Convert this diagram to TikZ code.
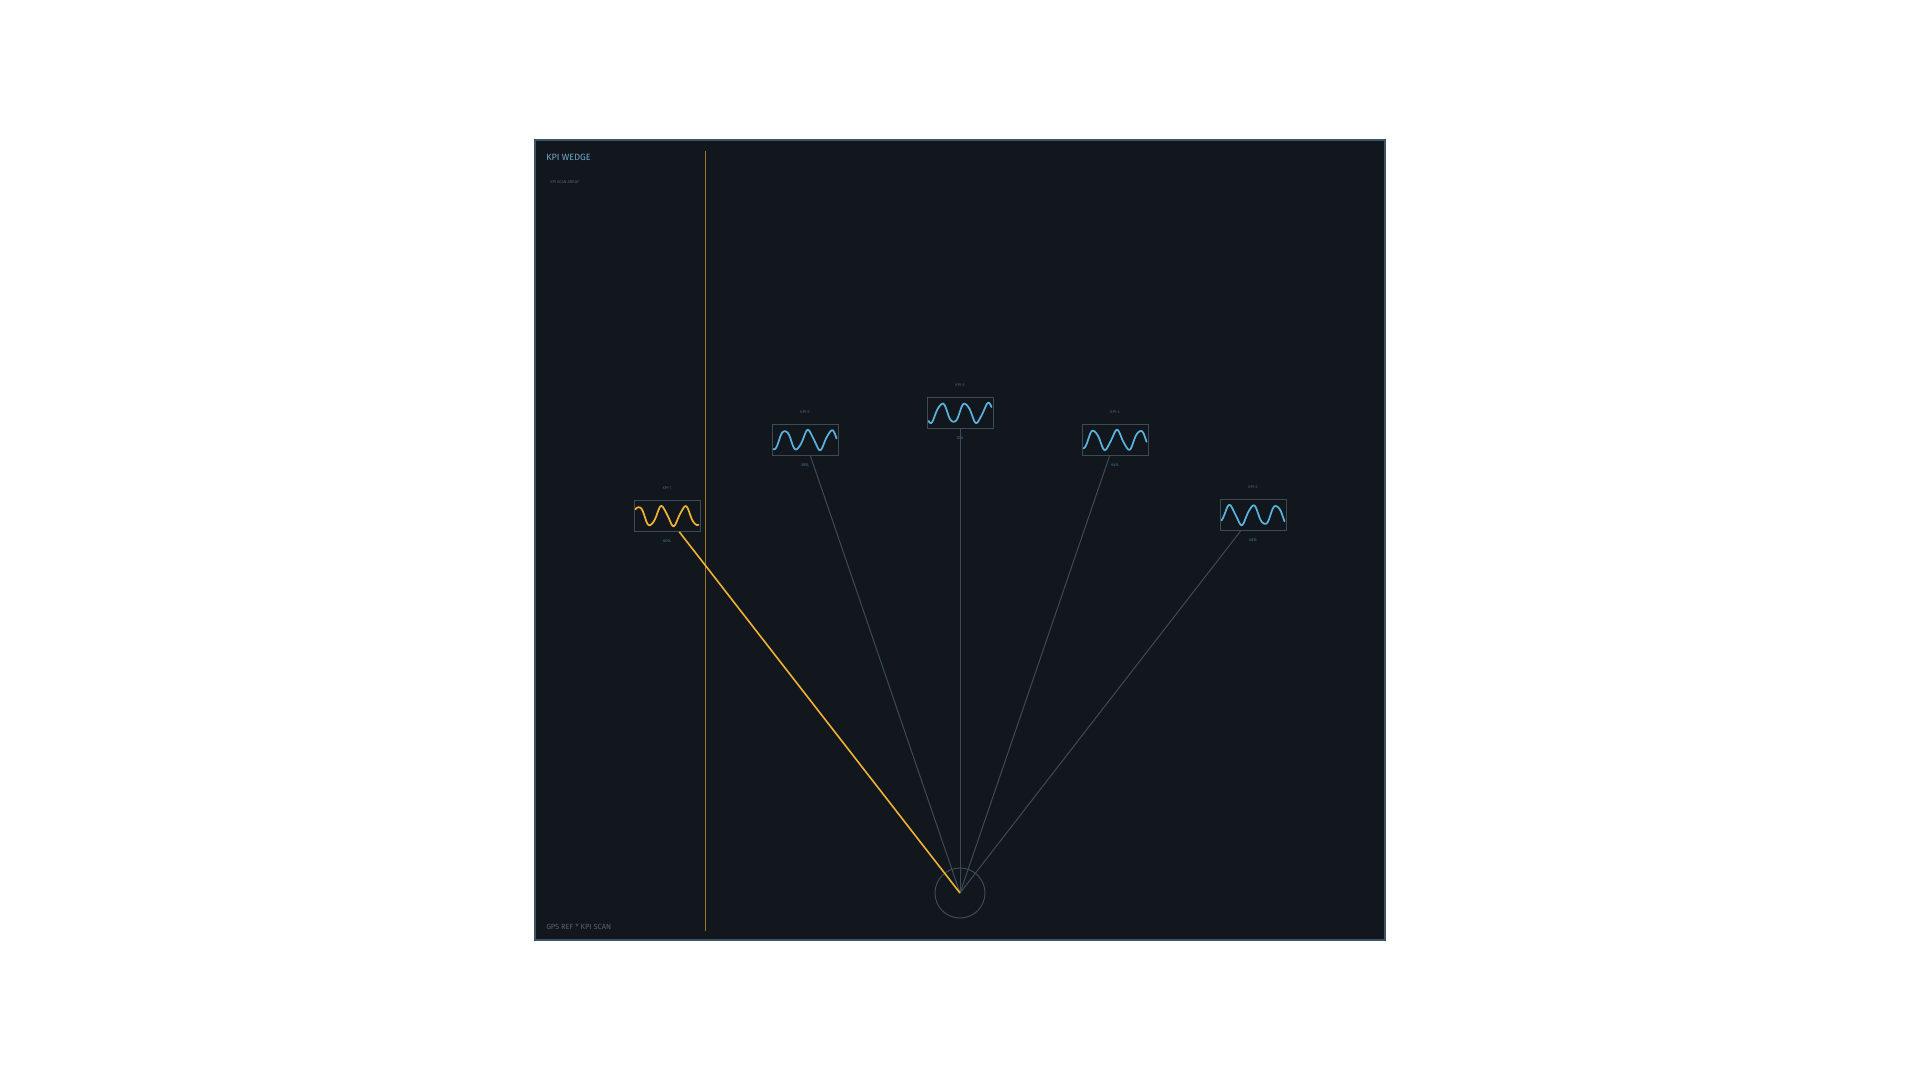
\documentclass[tikz,border=0pt]{standalone}
\usepackage{fontspec}
\setmainfont{Fira Sans}
\usetikzlibrary{positioning,calc}
\definecolor{panelbg}{HTML}{11171C}
\definecolor{panelrim}{HTML}{3D5466}
\definecolor{boxrim}{HTML}{3A4C58}
\definecolor{wireg}{HTML}{3E4B54}
\definecolor{kpiblue}{HTML}{5AB2DE}
\definecolor{kpiamber}{HTML}{F0B232}
\definecolor{textdim}{HTML}{56636D}
\definecolor{titleblue}{HTML}{6FA9CC}
\tikzset{
  kpibox/.style={draw=boxrim, line width=0.75pt, fill=panelbg, minimum width=49.5pt, minimum height=23pt, inner sep=0pt},
  hub/.style={circle, draw=wireg, line width=0.75pt, minimum size=37.5pt, inner sep=0pt},
  wire/.style={draw=wireg, line width=0.75pt},
  wave/.style={line width=1.3pt, line join=round, line cap=round},
  tiny/.style={font=\fontsize{3}{3.5}\selectfont, inner sep=0pt}
}
\begin{document}
\begin{tikzpicture}[x=0.75pt, y=-0.75pt]
\useasboundingbox (0,0) rectangle (1920,1080);
\fill[white] (0,0) rectangle (1920,1080);
% panel
\draw[panelrim, line width=1.5pt, fill=panelbg] (535,140) rectangle (1385,940);
\node[anchor=west, text=titleblue, font=\fontsize{6.8}{8}\selectfont, inner sep=0pt] (title) at (546,157) {KPI WEDGE};
\node[anchor=west, text=textdim, tiny] (subtitle) at (550,182) {KPI SCAN ARRAY};
\node[anchor=west, text=textdim, font=\fontsize{5.6}{6.5}\selectfont, inner sep=0pt] (footer) at (546,927) {GPS REF * KPI SCAN};
% scan line
\coordinate (scantop) at (705,151);
\coordinate (scanbot) at (705,931);
\draw[kpiamber!62!panelbg, line width=0.65pt] (scantop) -- (scanbot);
% hub
\node[hub] (hub) at (960,893) {};
% kpi tiles
\foreach \n/\cx/\cy/\val in {1/667/516/60\%, 2/805/440/58\%, 3/960/413/72\%, 4/1115/440/64\%, 5/1253/515/48\%}{
  \node[kpibox] (k\n) at (\cx,\cy) {};
  \node[tiny, text=textdim, above=8pt of k\n] (k\n-name) {KPI-\n};
  \node[tiny, text=kpiblue!70!black, below=6pt of k\n] (k\n-val) {\val};
}
% waves
\foreach \n/\cx/\cy/\ph/\col in {1/667/516/170/kpiamber, 2/805/440/40/kpiblue, 3/960/413/10/kpiblue, 4/1115/440/60/kpiblue, 5/1253/515/90/kpiblue}{
  \draw[wave, \col] plot[domain=-31.5:31.5, samples=70] ({\cx+\x}, {\cy-9.5*sin(15.5*\x+\ph)-0.8*sin(41*\x)});
}
% connectors
\foreach \n in {2,...,5}{
  \draw[wire] (hub.center) -- (k\n);
}
\draw[kpiamber, line width=1.2pt] (hub.center) -- (k1);
\end{tikzpicture}
\end{document}
